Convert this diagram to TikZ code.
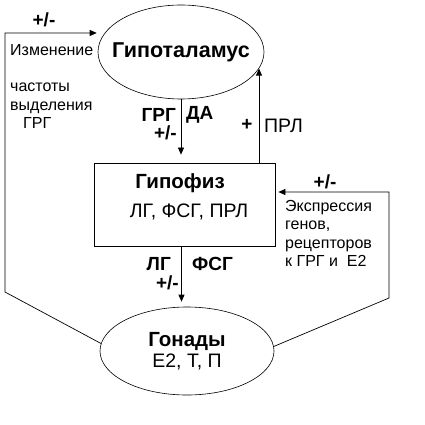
\documentclass[tikz,border=0pt]{standalone}
\usepackage{fontspec}
\setmainfont{Liberation Sans}
\usetikzlibrary{positioning, arrows.meta, shapes.geometric, calc}

\begin{document}
\begin{tikzpicture}[x=1pt, y=-1pt,
  organ/.style={ellipse, draw, line width=0.6pt, inner sep=0pt, align=center},
  fb/.style={line width=0.7pt, -{Triangle[length=7pt, width=6pt]}},
  bigtxt/.style={font=\bfseries\fontsize{21.5}{24}\selectfont, inner sep=0pt},
  tag/.style={font=\bfseries\fontsize{19}{22}\selectfont, inner sep=0pt},
  plain/.style={font=\fontsize{19.5}{22}\selectfont, inner sep=0pt},
  note/.style={font=\fontsize{16}{18.5}\selectfont, inner sep=0pt, align=left}]
  \useasboundingbox (0,0) rectangle (425,425);
  % hypothalamus, pituitary, gonads
  \node[organ, minimum width=166pt, minimum height=94pt,
        label={[bigtxt]center:Гипоталамус}] (hyp) at (181,52) {};
  \node[draw, line width=0.8pt, minimum width=181pt, minimum height=83pt] (pit) at (184.5,204.5) {};
  \node[bigtxt, font=\bfseries\fontsize{20.5}{24}\selectfont] (pitname) at (180,183) {Гипофиз};
  \node[plain] (pitlist) at (189,212) {ЛГ, ФСГ, ПРЛ};
  \node[organ, minimum width=174pt, minimum height=88pt, font=\fontsize{19.5}{21}\selectfont]
        (gon) at (187,351) {{\bfseries\fontsize{20.5}{21}\selectfont Гонады}\\Е2, Т, П};
  % main axis
  \draw[fb, shorten >=8pt] (hyp.south) -- (hyp.south |- pit.north);
  \draw[fb] (hyp.-12 |- pit.north) -- (hyp.-12);
  \draw[fb, shorten >=5pt] ([xshift=-3pt]pit.south) -- ([xshift=-3pt]pit.south |- gon.north);
  % feedback loops
  \coordinate (lbend) at (5,292);
  \coordinate (rbend) at (389,298);
  \draw[fb, shorten >=8pt] (gon.175) -- (lbend) |- (hyp.166);
  \draw[fb, shorten >=3pt] (gon.3) -- (rbend) |- ([yshift=12.5pt]pit.east);
  % labels
  \node[tag] (pmtop) at (44,20) {+/-};
  \node[note, anchor=west] (chg) at (10,50) {Изменение};
  \node[note, anchor=north west] (freq) at (10,83) {частоты\\выделения\\\hspace*{13pt}ГРГ};
  \node[tag, anchor=east] (grg) at (176,115) {ГРГ};
  \node[tag, anchor=west] (da) at (186,115) {ДА};
  \node[tag, anchor=east] (pmhyp) at (177,133) {+/-};
  \node[tag] (plus) at (247,125) {+};
  \node[plain, anchor=west] (prl) at (264,126) {ПРЛ};
  \node[tag, anchor=east] (lg) at (171,264) {ЛГ};
  \node[tag, anchor=west] (fsg) at (192,264) {ФСГ};
  \node[tag, anchor=east] (pmpit) at (179,283) {+/-};
  \node[tag] (pmright) at (325,182) {+/-};
  \node[note, anchor=north west] (expr) at (285,200) {Экспрессия\\генов,\\рецепторов\\к ГРГ и\ \ Е2};
\end{tikzpicture}
\end{document}
